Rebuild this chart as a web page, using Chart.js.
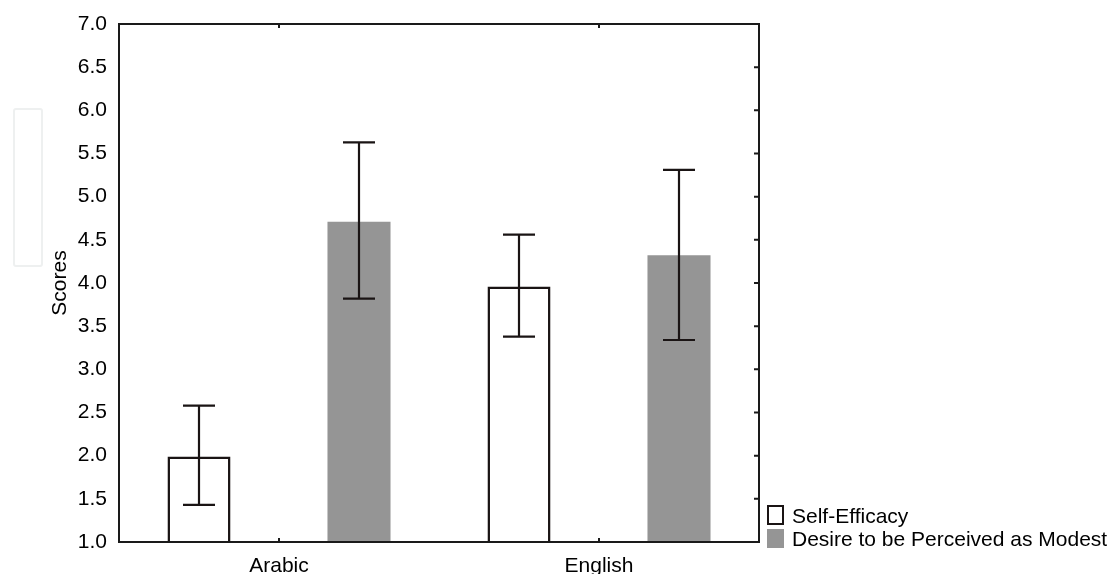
<!DOCTYPE html>
<html>
<head>
<meta charset="utf-8">
<script src="https://cdn.jsdelivr.net/npm/chart.js@4/dist/chart.umd.min.js"></script>
<style>
  body { margin: 0; background: #fff; }
  #wrap { position: relative; width: 1109px; height: 574px; }
  #ghost { position: absolute; left: 13px; top: 108px; width: 26px; height: 155px; border: 2px solid #eef0f0; border-radius: 3px; }
</style>
</head>
<body>
<div id="wrap">
  <div id="ghost"></div>
  <canvas id="grafica" width="1109" height="574"></canvas>
</div>
<script>
const categorias = ['Arabic', 'English'];
const series = ['Self-Efficacy', 'Desire to be Perceived as Modest'];
const mediaAutoeficacia = [1.99, 3.96];
const bajoAutoeficacia = [1.43, 3.38];
const altoAutoeficacia = [2.58, 4.56];
const mediaModestia = [4.71, 4.32];
const bajoModestia = [3.82, 3.34];
const altoModestia = [5.63, 5.31];

const FUENTE = '"Liberation Sans", Arial, sans-serif';
const TINTA = '#1a1414';

// barras de error, marco con ticks interiores y leyenda
const extras = {
  id: 'extras',
  afterDatasetsDraw(chart) {
    const ctx = chart.ctx;
    const y = chart.scales.y;
    const x = chart.scales.x;
    const area = chart.chartArea;
    const limites = [[bajoAutoeficacia, altoAutoeficacia], [bajoModestia, altoModestia]];
    ctx.save();
    ctx.strokeStyle = TINTA;
    ctx.lineWidth = 2.2;
    chart.data.datasets.forEach((ds, i) => {
      chart.getDatasetMeta(i).data.forEach((bar, j) => {
        const yb = y.getPixelForValue(limites[i][0][j]);
        const ya = y.getPixelForValue(limites[i][1][j]);
        ctx.beginPath();
        ctx.moveTo(bar.x, yb); ctx.lineTo(bar.x, ya);
        ctx.moveTo(bar.x - 16, yb); ctx.lineTo(bar.x + 16, yb);
        ctx.moveTo(bar.x - 16, ya); ctx.lineTo(bar.x + 16, ya);
        ctx.stroke();
      });
    });
    // marco
    ctx.strokeStyle = '#1a1a1a';
    ctx.lineWidth = 2;
    ctx.strokeRect(area.left, area.top, area.right - area.left, area.bottom - area.top);
    ctx.beginPath();
    y.ticks.forEach(t => {
      const py = y.getPixelForValue(t.value);
      ctx.moveTo(area.right, py); ctx.lineTo(area.right - 5, py);
    });
    categorias.forEach((c, j) => {
      const px = x.getPixelForValue(j);
      ctx.moveTo(px, area.bottom); ctx.lineTo(px, area.bottom - 4);
      ctx.moveTo(px, area.top); ctx.lineTo(px, area.top + 4);
    });
    ctx.stroke();
    // leyenda
    ctx.font = '21px ' + FUENTE;
    ctx.textBaseline = 'alphabetic';
    ctx.textAlign = 'left';
    chart.data.datasets.forEach((ds, i) => {
      const top = 506 + i * 23;
      if (ds.backgroundColor === '#ffffff') {
        ctx.fillStyle = '#fff';
        ctx.fillRect(768, top, 15, 18);
        ctx.strokeStyle = TINTA;
        ctx.lineWidth = 2;
        ctx.strokeRect(768, top, 15, 18);
      } else {
        ctx.fillStyle = ds.backgroundColor;
        ctx.fillRect(767, top, 17, 19);
      }
      ctx.fillStyle = '#000';
      ctx.fillText(ds.label, 792, top + 17);
    });
    ctx.restore();
  }
};

new Chart(document.getElementById('grafica').getContext('2d'), {
  type: 'bar',
  data: {
    labels: categorias,
    datasets: [{
      label: series[0],
      data: mediaAutoeficacia,
      backgroundColor: '#ffffff',
      borderColor: TINTA,
      borderWidth: 2.5,
      borderSkipped: 'bottom'
    }, {
      label: series[1],
      data: mediaModestia,
      backgroundColor: '#959595',
      borderWidth: 0
    }]
  },
  options: {
    responsive: false,
    animation: false,
    categoryPercentage: 1.0,
    barPercentage: 0.394,
    layout: { padding: { left: 0, right: 350, top: 24, bottom: 0 } },
    plugins: { legend: { display: false }, tooltip: { enabled: false } },
    scales: {
      x: {
        grid: { display: false },
        border: { display: false },
        ticks: { color: '#000', font: { family: FUENTE, size: 21 }, padding: 4, maxRotation: 0 },
        afterFit: s => { s.height = 32; }
      },
      y: {
        min: 1,
        max: 7,
        grid: { display: false },
        border: { display: false },
        ticks: {
          stepSize: 0.5,
          color: '#000',
          padding: 4,
          font: { family: FUENTE, size: 21 },
          callback: v => v.toFixed(1)
        },
        title: {
          display: true,
          text: 'Scores',
          color: '#000',
          font: { family: FUENTE, size: 21 },
          padding: { top: 48, bottom: 0 }
        },
        afterFit: s => { s.width = 119; }
      }
    }
  },
  plugins: [extras]
});
</script>
</body>
</html>
